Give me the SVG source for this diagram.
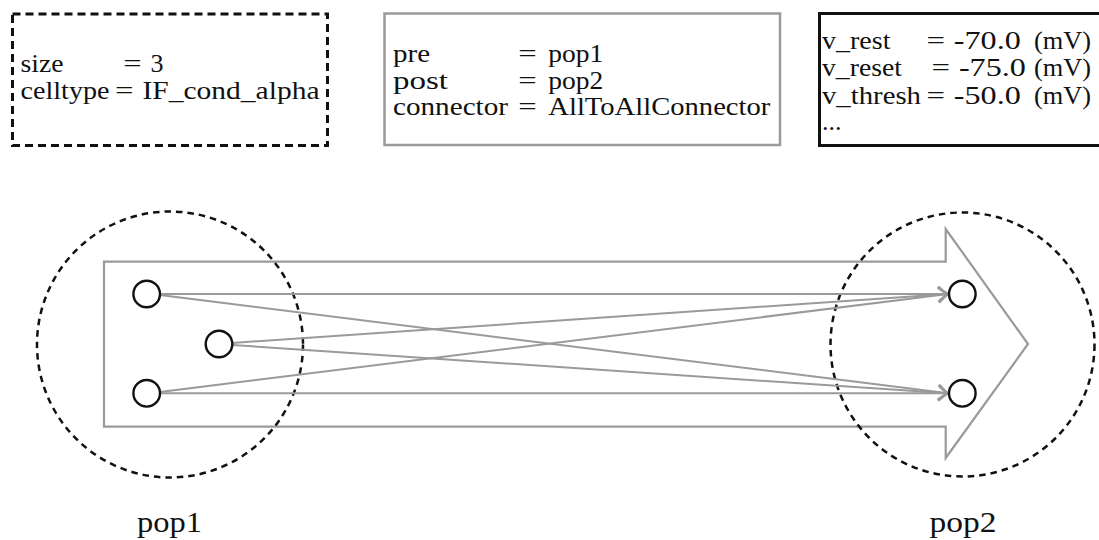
<svg xmlns="http://www.w3.org/2000/svg" width="1099" height="540" viewBox="0 0 1099 540">
<style>
  text { font-family: "Liberation Serif", "DejaVu Serif", serif; font-size: 26px; fill: #111; }
  text.lbl { font-size: 30px; }
  .pop { fill: none; stroke: #111; stroke-width: 2.5; stroke-dasharray: 6.5 5; }
  .neuron { fill: #fff; stroke: #111; stroke-width: 2.4; }
  .conn { fill: none; stroke: #9a9a9a; stroke-width: 2; marker-end: url(#chev); }
  .proj { fill: #fff; stroke: #9a9a9a; stroke-width: 2.2; }
</style>
<defs>
  <marker id="chev" markerUnits="userSpaceOnUse" markerWidth="16" markerHeight="18" viewBox="-12 -9 14 18" refX="0" refY="0" orient="auto">
    <path d="M-9,-7 Q-3,-1.5 0,0 Q-3,1.5 -9,7" fill="none" stroke="#9a9a9a" stroke-width="2.2" stroke-linecap="round"/>
  </marker>
</defs>
<rect width="1099" height="540" fill="#fff"/>

<g id="pop1-params">
  <rect x="12.5" y="14" width="315" height="131.5" fill="none" stroke="#111" stroke-width="3" stroke-dasharray="8 5"/>
  <text x="20.5" y="71.5" textLength="43" lengthAdjust="spacingAndGlyphs">size</text><text x="123.3" y="71.5" textLength="18.5" lengthAdjust="spacingAndGlyphs">=</text><text x="150.5" y="71.5">3</text>
  <text x="20.5" y="99" textLength="89" lengthAdjust="spacingAndGlyphs">celltype</text><text x="115" y="99" textLength="18.5" lengthAdjust="spacingAndGlyphs">=</text><text x="142.5" y="99" textLength="177" lengthAdjust="spacingAndGlyphs">IF_cond_alpha</text>
</g>

<g id="projection-params">
  <rect x="384.5" y="13.5" width="395.5" height="131.5" fill="none" stroke="#9a9a9a" stroke-width="2.5"/>
  <text x="393" y="61.8" textLength="37" lengthAdjust="spacingAndGlyphs">pre</text><text x="518.3" y="61.8" textLength="18.5" lengthAdjust="spacingAndGlyphs">=</text><text x="548.3" y="61.8" textLength="55" lengthAdjust="spacingAndGlyphs">pop1</text>
  <text x="393" y="88.5" textLength="55" lengthAdjust="spacingAndGlyphs">post</text><text x="518.3" y="88.5" textLength="18.5" lengthAdjust="spacingAndGlyphs">=</text><text x="548.3" y="88.5" textLength="55" lengthAdjust="spacingAndGlyphs">pop2</text>
  <text x="393" y="115" textLength="115" lengthAdjust="spacingAndGlyphs">connector</text><text x="518.3" y="115" textLength="18.5" lengthAdjust="spacingAndGlyphs">=</text><text x="548.3" y="115" textLength="222" lengthAdjust="spacingAndGlyphs">AllToAllConnector</text>
</g>

<g id="celltype-params">
  <rect x="819.5" y="13.5" width="290" height="132" fill="none" stroke="#111" stroke-width="3"/>
  <text x="822" y="48.5" textLength="68.5" lengthAdjust="spacingAndGlyphs">v_rest</text><text x="926.4" y="48.5" textLength="18.5" lengthAdjust="spacingAndGlyphs">=</text><text x="953.8" y="48.5" textLength="67" lengthAdjust="spacingAndGlyphs">-70.0</text><text x="1034" y="48.5" textLength="57" lengthAdjust="spacingAndGlyphs">(mV)</text>
  <text x="822" y="76" textLength="80" lengthAdjust="spacingAndGlyphs">v_reset</text><text x="931.6" y="76" textLength="18.5" lengthAdjust="spacingAndGlyphs">=</text><text x="958.9" y="76" textLength="67" lengthAdjust="spacingAndGlyphs">-75.0</text><text x="1034" y="76" textLength="57" lengthAdjust="spacingAndGlyphs">(mV)</text>
  <text x="822" y="103.5" textLength="99" lengthAdjust="spacingAndGlyphs">v_thresh</text><text x="926.4" y="103.5" textLength="18.5" lengthAdjust="spacingAndGlyphs">=</text><text x="953.8" y="103.5" textLength="67" lengthAdjust="spacingAndGlyphs">-50.0</text><text x="1034" y="103.5" textLength="57" lengthAdjust="spacingAndGlyphs">(mV)</text>
  <text x="822" y="130">...</text>
</g>

<g id="projection">
  <polygon class="proj" points="104,261.7 945.7,261.7 945.7,229 1028,344 945.7,458 945.7,426.7 104,426.7"/>
</g>

<g id="pop1">
  <circle class="pop" cx="170" cy="344.5" r="133"/>
  <text class="lbl" x="137" y="532" textLength="65" lengthAdjust="spacingAndGlyphs">pop1</text>
</g>

<g id="pop2">
  <circle class="pop" cx="962.5" cy="344.5" r="132"/>
  <text class="lbl" x="929.5" y="532" textLength="67" lengthAdjust="spacingAndGlyphs">pop2</text>
</g>

<g id="connectors">
  <line class="conn" x1="160" y1="294" x2="948" y2="294"/>
  <line class="conn" x1="160" y1="295" x2="948" y2="393.3"/>
  <line class="conn" x1="232" y1="343" x2="948" y2="294"/>
  <line class="conn" x1="232" y1="345" x2="948" y2="393.3"/>
  <line class="conn" x1="160" y1="392" x2="948" y2="294"/>
  <line class="conn" x1="160" y1="393.3" x2="948" y2="393.3"/>
</g>

<g id="pop1-n1"><circle class="neuron" cx="146.7" cy="294" r="13.3"/></g>
<g id="pop1-n2"><circle class="neuron" cx="219" cy="344" r="13.3"/></g>
<g id="pop1-n3"><circle class="neuron" cx="146.7" cy="393.3" r="13.3"/></g>
<g id="pop2-n1"><circle class="neuron" cx="962.3" cy="294" r="13.3"/></g>
<g id="pop2-n2"><circle class="neuron" cx="962.3" cy="393.3" r="13.3"/></g>
</svg>
